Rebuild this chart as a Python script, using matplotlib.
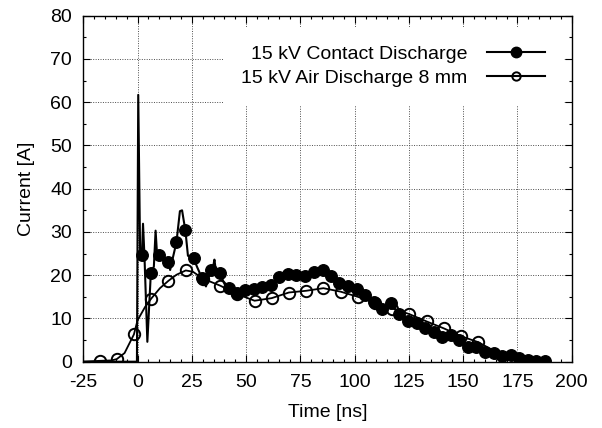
import matplotlib
matplotlib.use('Agg')
import matplotlib.pyplot as plt
import numpy as np
from matplotlib.ticker import MultipleLocator

plt.rcParams['font.family'] = ['Liberation Sans', 'DejaVu Sans']
plt.rcParams['axes.unicode_minus'] = False

# 15 kV contact discharge: marker samples (ns, A)
cd_mark_t = [2.0, 6.1, 10.0, 14.1, 17.9, 22.0, 25.8, 29.7, 33.8, 37.9,
             42.0, 45.8, 49.6, 53.5, 57.4, 61.4, 65.3, 69.3, 73.2, 77.2,
             81.1, 85.2, 89.1, 93.0, 97.0, 100.9, 104.9, 108.8, 112.8, 116.7,
             120.6, 124.6, 128.5, 132.5, 136.4, 140.4, 144.3, 148.2, 152.2, 156.1,
             160.1, 164.0, 168.0, 171.9, 175.8, 179.8, 183.7, 187.7]
cd_mark_i = [24.7, 20.4, 24.6, 23.1, 27.6, 30.5, 23.9, 19.3, 21.2, 20.5,
             17.0, 15.8, 16.6, 16.7, 17.2, 17.7, 19.7, 20.3, 20.1, 19.8,
             20.8, 21.3, 19.9, 18.1, 17.4, 16.8, 15.4, 13.9, 12.3, 13.6,
             11.0, 9.4, 8.9, 7.8, 6.9, 5.8, 6.2, 5.0, 3.3, 3.5,
             2.3, 1.9, 1.3, 1.5, 0.8, 0.5, 0.2, 0.1]

# contact discharge trace before ~45 ns (ringing between the markers)
cd_early_t = [-25, -0.3, 0.3, 1.2, 2.0, 2.5, 3.2, 4.5, 6.1, 7.5, 8.3, 9.0, 10.0,
              11.8, 12.5, 14.1, 15.0, 16.0, 17.9, 19.5, 20.5, 21.3, 22.0, 23.2,
              25.8, 27.5, 29.7, 31.5, 33.8, 35.0, 35.4, 36.2, 37.9, 40.0, 42.0, 44.0]
cd_early_i = [0, 0, 61.7, 24.0, 24.7, 31.9, 24.0, 4.6, 20.4, 22.0, 30.3, 24.5, 24.6,
              24.0, 23.2, 23.1, 21.2, 23.5, 27.6, 34.8, 35.0, 32.5, 30.5, 24.5,
              23.9, 21.8, 19.3, 17.4, 21.2, 22.5, 23.6, 20.5, 20.5, 18.0, 17.0, 15.0]

# 15 kV air discharge 8 mm: marker samples
air_mark_t = [-17.5, -9.6, -1.7, 6.3, 14.2, 22.2, 30.1, 38.0, 46.0, 53.9, 61.8, 69.7,
              77.7, 85.6, 93.5, 101.5, 109.4, 117.3, 125.2, 133.2, 141.1, 149.0, 157.0]
air_mark_i = [0.2, 0.6, 6.3, 14.6, 18.7, 21.1, 19.2, 17.6, 15.6, 14.1, 14.7, 16.0,
              16.4, 17.0, 16.2, 15.0, 13.6, 12.3, 11.0, 9.3, 7.7, 5.9, 4.5]

# air discharge trace
air_line_t = [-25, -17.5, -12, -9.6, -6, -4.5, -1.7, 0, 3.5, 6.3, 10.3, 14.2, 17.9,
              22.2, 25.5, 30.1, 38.0, 46.0, 53.9, 61.8, 69.7, 77.7, 85.6, 93.5,
              101.5, 109.4, 117.3, 125.2, 133.2, 141.1, 149.0, 157.0, 165.0]
air_line_i = [0, 0.2, 0.3, 0.6, 2.0, 3.5, 6.3, 9.6, 12.7, 14.6, 17.0, 18.7, 20.1,
              21.1, 20.8, 19.2, 17.6, 15.6, 14.1, 14.7, 16.0, 16.4, 17.0, 16.2,
              15.0, 13.6, 12.3, 11.0, 9.3, 7.7, 5.9, 4.5, 2.3]

cd_mark_t = np.array(cd_mark_t)
cd_mark_i = np.array(cd_mark_i)
late = cd_mark_t > 45
cd_line_t = np.concatenate([cd_early_t, cd_mark_t[late]])
cd_line_i = np.concatenate([cd_early_i, cd_mark_i[late]])

fig = plt.figure(figsize=(6.02, 4.28), dpi=100)
ax = fig.add_axes([0.1384, 0.1549, 0.8113, 0.8084])

ax.plot(cd_line_t, cd_line_i, color='black', lw=1.5, zorder=3)
ax.plot(cd_mark_t, cd_mark_i, ls='none', marker='o', ms=8.3, color='black', zorder=4)
ax.plot(air_line_t, air_line_i, color='black', lw=1.3, zorder=3)
ax.plot(air_mark_t, air_mark_i, ls='none', marker='o', ms=8.2, mfc='none',
        mec='black', mew=1.4, zorder=5)

# legend proxies
h1, = ax.plot([], [], color='black', lw=1.5, marker='o', ms=7.5)
h2, = ax.plot([], [], color='black', lw=1.5, marker='o', ms=6, mfc='none', mew=1.4)

ax.set_xlim(-25, 200)
ax.set_ylim(0, 80)
ax.xaxis.set_major_locator(MultipleLocator(25))
ax.xaxis.set_minor_locator(MultipleLocator(5))
ax.yaxis.set_major_locator(MultipleLocator(10))
ax.yaxis.set_minor_locator(MultipleLocator(5))
ax.tick_params(which='both', direction='in', top=True, right=True, labelsize=14)
ax.tick_params(which='major', length=5, width=0.8)
ax.tick_params(which='minor', length=2.5, width=0.8)
ax.tick_params(axis='y', pad=8)
ax.tick_params(axis='x', pad=9)
for s in ax.spines.values():
    s.set_linewidth(1.0)

ax.grid(True, which='major', color='0.3', lw=0.7, ls=(0, (1, 1.5)))
ax.set_axisbelow(True)

ax.set_xlabel('Time [ns]', fontsize=14, labelpad=9)
ax.set_ylabel('Current [A]', fontsize=14, labelpad=11)

leg = ax.legend([h1, h2], ['15 kV Contact Discharge', '15 kV Air Discharge 8 mm'],
                loc='upper right', bbox_to_anchor=(1.004, 0.995), markerfirst=False,
                fontsize=14, frameon=True, fancybox=False, framealpha=1,
                facecolor='white', edgecolor='none', handlelength=3.0,
                handletextpad=1.0, borderpad=0.95, labelspacing=0.3)
leg.set_zorder(6)

fig.savefig('out.png', dpi=100)
